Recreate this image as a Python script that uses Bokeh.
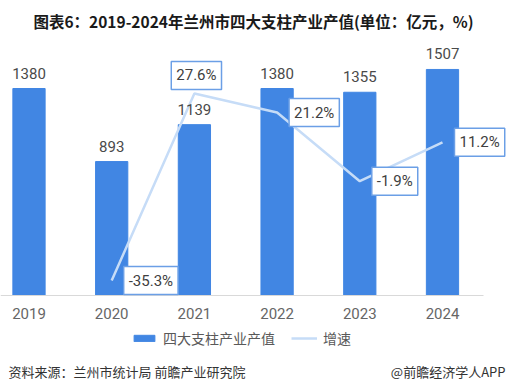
from bokeh.plotting import figure
from bokeh.models import (ColumnDataSource, LabelSet, Label, Range1d, FixedTicker,
                          Legend, LegendItem)
from bokeh.core.properties import value
from bokeh.embed import file_html
from bokeh.resources import INLINE

years = ["2019", "2020", "2021", "2022", "2023", "2024"]
output_value = [1380, 893, 1139, 1380, 1355, 1507]
growth = [None, -35.3, 27.6, 21.2, -1.9, 11.2]
growth_text = ["", "-35.3%", "27.6%", "21.2%", "-1.9%", "11.2%"]

title_text = "图表6：2019-2024年兰州市四大支柱产业产值(单位：亿元，%)"
source_text = "资料来源：兰州市统计局 前瞻产业研究院"
brand_text = "@前瞻经济学人APP"
bar_name = "四大支柱产业产值"
line_name = "增速"

CJK = "Noto Sans CJK SC"
NUM = "Roboto"
BAR_COLOR = "#4186e3"
LINE_COLOR = "#c6dcf7"
BOX_COLOR = "#6b9fe6"

xs = list(range(len(years)))

W, H = 506, 392
p = figure(width=W, height=H, output_backend="svg", toolbar_location=None,
           x_range=Range1d(-0.3446, 5.774), y_range=Range1d(-646.7, 1966.7),
           y_axis_location=None, min_border_left=0, min_border_right=0,
           min_border_top=0, min_border_bottom=0)
p.extra_y_ranges = {"g": Range1d(-72.97, 58.88)}
p.outline_line_color = None
p.xgrid.visible = False
p.ygrid.visible = False
p.background_fill_color = "white"
p.border_fill_color = "white"

src = ColumnDataSource(dict(x=xs, v=output_value, vt=[str(v) for v in output_value]))
bars = p.vbar(x="x", top="v", width=0.39, source=src, color=BAR_COLOR)

gx = [x for x, g in zip(xs, growth) if g is not None]
gy = [g for g in growth if g is not None]
gsrc = ColumnDataSource(dict(x=gx, g=gy))
line = p.line(x="x", y="g", source=gsrc, y_range_name="g", line_color=LINE_COLOR,
              line_width=2.5)

p.add_layout(LabelSet(x="x", y="v", text="vt", source=src, text_align="center",
                      text_baseline="bottom", y_offset=10, text_font=value(NUM),
                      text_font_size="15px", text_color="#4a4a4a"))

# growth labels: position style per label
for x, g, t in zip(xs, growth, growth_text):
    if g is None:
        continue
    if t == "27.6%":
        kw = dict(text_align="center", text_baseline="middle", x_offset=2, y_offset=18)
    else:
        kw = dict(text_align="left", text_baseline="middle", x_offset=12, y_offset=0)
    p.add_layout(Label(x=x, y=g, y_range_name="g", text=t, text_font=NUM,
                       text_font_size="15px", text_color="#404040",
                       background_fill_color="white", border_line_color=BOX_COLOR,
                       border_line_width=1.5, padding=5, **kw))

ax = p.xaxis[0]
ax.fixed_location = 0
ax.bounds = (-0.3446, 5.496)
ax.ticker = FixedTicker(ticks=xs)
ax.major_label_overrides = {i: y for i, y in enumerate(years)}
ax.major_tick_line_color = None
ax.minor_tick_line_color = None
ax.axis_line_color = "#d9d9d9"
ax.axis_line_width = 1
ax.major_label_text_font = NUM
ax.major_label_text_font_size = "15px"
ax.major_label_text_color = "#666666"
ax.major_label_standoff = 7

legend = Legend(items=[LegendItem(label=bar_name, renderers=[bars]),
                       LegendItem(label=line_name, renderers=[line])],
                location=(131, 44), orientation="horizontal", padding=0, margin=0,
                spacing=16, glyph_width=26, glyph_height=8, label_standoff=6,
                label_text_font=CJK, label_text_font_size="14px",
                label_text_color="#595959", border_line_color=None,
                background_fill_alpha=0)
p.add_layout(legend)

p.add_layout(Label(x=253, y=372, x_units="screen", y_units="screen", text=title_text,
                   text_align="center", text_baseline="middle", text_font=CJK,
                   text_font_size="15.5px", text_font_style="bold", text_color="#1a1a1a"))
p.add_layout(Label(x=8, y=21, x_units="screen", y_units="screen", text=source_text,
                   text_align="left", text_baseline="middle", text_font=CJK,
                   text_font_size="13px", text_color="#333333"))
p.add_layout(Label(x=505, y=21, x_units="screen", y_units="screen", text=brand_text,
                   text_align="right", text_baseline="middle", text_font=CJK,
                   text_font_size="13px", text_color="#333333"))

open("out.html", "w").write(file_html(p, INLINE))
